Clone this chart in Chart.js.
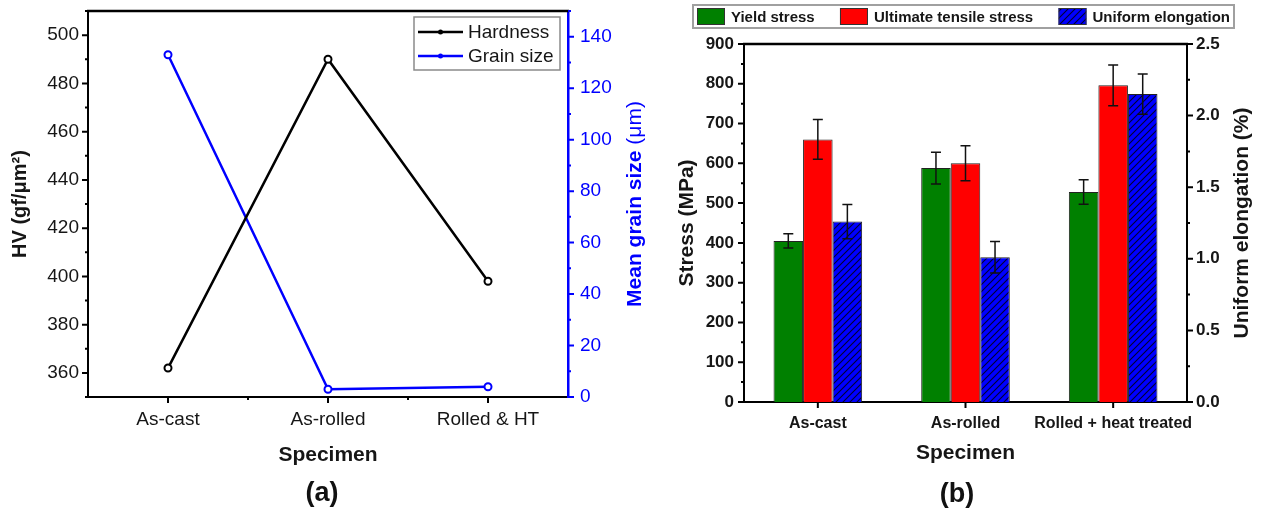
<!DOCTYPE html>
<html>
<head>
<meta charset="utf-8">
<script src="https://cdn.jsdelivr.net/npm/chart.js@4.4.1/dist/chart.umd.min.js"></script>
<style>
  html, body { margin: 0; padding: 0; background: #fff; width: 1261px; height: 517px; overflow: hidden; }
  #ca { position: absolute; left: 0; top: 0; }
  #cb { position: absolute; left: 650px; top: 0; }
  .plabel { position: absolute; font-family: "Liberation Sans", Arial, sans-serif; font-weight: bold; font-size: 27px; color: #111; transform: translate(-50%, -50%); line-height: 1; }
</style>
</head>
<body>
<canvas id="ca" width="650" height="517"></canvas>
<canvas id="cb" width="611" height="517"></canvas>
<div class="plabel" style="left:322px; top:492px;">(a)</div>
<div class="plabel" style="left:957px; top:493px;">(b)</div>
<script>
// ---------- DATA ----------
const specimensA = ['As-cast', 'As-rolled', 'Rolled & HT'];
const hardness = [362, 490, 398];          // HV (gf/μm²)
const grainSize = [133, 3, 4];             // μm

const specimensB = ['As-cast', 'As-rolled', 'Rolled + heat treated'];
const yieldStress = [405, 588, 528];       // MPa
const yieldErr = [18, 40, 31];
const uts = [660, 600, 796];               // MPa
const utsErr = [50, 44, 51];
const elongation = [1.26, 1.01, 2.15];     // %
const elongErr = [0.12, 0.11, 0.14];

const FONT = '"Liberation Sans", Arial, Helvetica, sans-serif';
const TXT = '#161616';

// ---------- PLUGINS ----------
function makeTicks(list) {
  return {
    id: 'tickMarks',
    afterDraw(chart) {
      const ctx = chart.ctx;
      list.forEach(cfg => {
        const s = chart.scales[cfg.id];
        const marks = [];
        if (s.type === 'category') {
          const n = chart.data.labels.length;
          for (let i = 0; i < n; i++) marks.push([s.getPixelForValue(i), true]);
          if (cfg.minorBetween) for (let i = 0; i < n - 1; i++) marks.push([s.getPixelForValue(i + 0.5), false]);
        } else {
          const count = Math.round((s.max - s.min) / cfg.minor);
          for (let k = 0; k <= count; k++) {
            const v = s.min + k * cfg.minor;
            const r = v / cfg.major;
            marks.push([s.getPixelForValue(v), Math.abs(r - Math.round(r)) < 1e-6]);
          }
        }
        ctx.save();
        ctx.strokeStyle = cfg.color;
        ctx.lineWidth = cfg.width;
        ctx.beginPath();
        marks.forEach(([p, major]) => {
          const len = major ? cfg.majorLen : cfg.minorLen;
          if (cfg.side === 'bottom') { ctx.moveTo(p, s.top); ctx.lineTo(p, s.top + len); }
          else if (cfg.side === 'left') { ctx.moveTo(s.right, p); ctx.lineTo(s.right - len, p); }
          else { ctx.moveTo(s.left, p); ctx.lineTo(s.left + len, p); }
        });
        ctx.stroke();
        ctx.restore();
      });
    }
  };
}

function makeFrame(cfg) {
  return {
    id: 'frameTop',
    afterDraw(chart) {
      const a = chart.chartArea, ctx = chart.ctx;
      ctx.save();
      ctx.strokeStyle = cfg.color;
      ctx.lineWidth = cfg.width;
      ctx.beginPath();
      ctx.moveTo(a.left - 1, a.top);
      ctx.lineTo(a.right + 1, a.top);
      ctx.stroke();
      ctx.restore();
    }
  };
}

function makeSideTitle(cfg) {
  return {
    id: 'sideTitle',
    afterDraw(chart) {
      const a = chart.chartArea, ctx = chart.ctx;
      ctx.save();
      ctx.translate(cfg.x, (a.top + a.bottom) / 2);
      ctx.rotate(-Math.PI / 2);
      ctx.textBaseline = 'middle';
      ctx.textAlign = 'left';
      let total = 0;
      cfg.parts.forEach(p => { ctx.font = p.font; p.w = ctx.measureText(p.text).width; total += p.w; });
      let x = -total / 2;
      cfg.parts.forEach(p => { ctx.font = p.font; ctx.fillStyle = cfg.color; ctx.fillText(p.text, x, 0); x += p.w; });
      ctx.restore();
    }
  };
}

function makeErrorBars(errs) {
  return {
    id: 'errorBars',
    afterDatasetsDraw(chart) {
      const ctx = chart.ctx;
      ctx.save();
      ctx.strokeStyle = '#111';
      ctx.lineWidth = 1.5;
      chart.data.datasets.forEach((ds, di) => {
        const meta = chart.getDatasetMeta(di);
        const ys = chart.scales[meta.yAxisID];
        const e = errs[di];
        meta.data.forEach((el, i) => {
          const v = ds.data[i];
          const yt = ys.getPixelForValue(v + e[i]);
          const yb = ys.getPixelForValue(v - e[i]);
          const x = el.x, cap = 5;
          ctx.beginPath();
          ctx.moveTo(x, yt); ctx.lineTo(x, yb);
          ctx.moveTo(x - cap, yt); ctx.lineTo(x + cap, yt);
          ctx.moveTo(x - cap, yb); ctx.lineTo(x + cap, yb);
          ctx.stroke();
        });
      });
      ctx.restore();
    }
  };
}

function makeLineLegend(cfg) {
  return {
    id: 'lineLegend',
    afterDraw(chart) {
      const ctx = chart.ctx, b = cfg.box;
      ctx.save();
      ctx.fillStyle = '#fff';
      ctx.fillRect(b.x, b.y, b.w, b.h);
      ctx.strokeStyle = '#8a8a8a';
      ctx.lineWidth = 1.5;
      ctx.strokeRect(b.x, b.y, b.w, b.h);
      chart.data.datasets.forEach((ds, i) => {
        const y = cfg.rowY[i];
        ctx.strokeStyle = ds.borderColor;
        ctx.lineWidth = 2.5;
        ctx.beginPath(); ctx.moveTo(cfg.x0, y); ctx.lineTo(cfg.x1, y); ctx.stroke();
        ctx.fillStyle = ds.borderColor;
        ctx.beginPath(); ctx.arc((cfg.x0 + cfg.x1) / 2, y, 2.5, 0, Math.PI * 2); ctx.fill();
        ctx.fillStyle = TXT;
        ctx.font = cfg.font;
        ctx.textBaseline = 'middle';
        ctx.textAlign = 'left';
        ctx.fillText(ds.label, cfg.textX, y + 1);
      });
      ctx.restore();
    }
  };
}

function makeSwatchLegend(cfg) {
  return {
    id: 'swatchLegend',
    afterDraw(chart) {
      const ctx = chart.ctx, b = cfg.box;
      ctx.save();
      ctx.strokeStyle = '#a0a0a0';
      ctx.lineWidth = 2;
      ctx.strokeRect(b.x, b.y, b.w, b.h);
      ctx.font = cfg.font;
      const dss = chart.data.datasets;
      const widths = dss.map(d => ctx.measureText(d.label).width);
      let used = 0;
      widths.forEach(w => used += cfg.swW + cfg.swGap + w);
      const gap = (cfg.endX - cfg.startX - used) / (dss.length - 1);
      let x = cfg.startX;
      dss.forEach((d, i) => {
        ctx.fillStyle = d.backgroundColor;
        ctx.fillRect(x, cfg.swY, cfg.swW, cfg.swH);
        ctx.strokeStyle = '#333';
        ctx.lineWidth = 1;
        ctx.strokeRect(x + 0.5, cfg.swY + 0.5, cfg.swW - 1, cfg.swH - 1);
        ctx.fillStyle = TXT;
        ctx.textBaseline = 'middle';
        ctx.textAlign = 'left';
        ctx.fillText(d.label, x + cfg.swW + cfg.swGap, cfg.swY + cfg.swH / 2 + 1);
        x += cfg.swW + cfg.swGap + widths[i] + gap;
      });
      ctx.restore();
    }
  };
}

function hatchPattern() {
  const c = document.createElement('canvas');
  const n = 7;
  c.width = n; c.height = n;
  const g = c.getContext('2d');
  g.fillStyle = '#0000ff';
  g.fillRect(0, 0, n, n);
  g.strokeStyle = '#000033';
  g.lineWidth = 1.1;
  g.beginPath();
  g.moveTo(0, n); g.lineTo(n, 0);
  g.moveTo(-1, 1); g.lineTo(1, -1);
  g.moveTo(n - 1, n + 1); g.lineTo(n + 1, n - 1);
  g.stroke();
  return g.createPattern(c, 'repeat');
}

function noVPad(width) {
  return function (s) { s.width = width; s.paddingTop = 0; s.paddingBottom = 0; };
}

// ---------- CHART A ----------
new Chart(document.getElementById('ca'), {
  type: 'line',
  data: {
    labels: specimensA,
    datasets: [
      { label: 'Hardness', data: hardness, yAxisID: 'y', borderColor: '#000000', backgroundColor: '#000000',
        borderWidth: 2.5, pointRadius: 3.5, pointBorderWidth: 2, pointBackgroundColor: '#ffffff', pointBorderColor: '#000000', tension: 0 },
      { label: 'Grain size', data: grainSize, yAxisID: 'y1', borderColor: '#0000ff', backgroundColor: '#0000ff',
        borderWidth: 2.5, pointRadius: 3.5, pointBorderWidth: 2, pointBackgroundColor: '#ffffff', pointBorderColor: '#0000ff', tension: 0 }
    ]
  },
  options: {
    responsive: false, animation: false, events: [],
    layout: { padding: { top: 11, left: 0, right: 0, bottom: 0 } },
    plugins: { legend: { display: false }, tooltip: { enabled: false } },
    scales: {
      x: {
        type: 'category', offset: true,
        grid: { display: false, drawTicks: false },
        border: { display: true, color: '#000', width: 2 },
        ticks: { padding: 11, maxRotation: 0, minRotation: 0, autoSkip: false, color: TXT, font: { family: FONT, size: 19 } },
        title: { display: true, text: 'Specimen', color: TXT, font: { family: FONT, size: 21, weight: 'bold' }, padding: { top: 0, bottom: 49 } },
        afterFit(s) { s.height = 120; }
      },
      y: {
        position: 'left', min: 350, max: 510,
        grid: { display: false, drawTicks: false },
        border: { display: true, color: '#000', width: 2 },
        ticks: { stepSize: 10, autoSkip: false, padding: 9, color: TXT, font: { family: FONT, size: 19 },
                 callback: v => (v % 20 === 0 ? v : null) },
        title: { display: true, text: 'HV (gf/μm²)', color: TXT, font: { family: FONT, size: 20, weight: 'bold' }, padding: { top: 8, bottom: 0 } },
        afterFit: noVPad(88)
      },
      y1: {
        position: 'right', min: 0, max: 150,
        grid: { display: false, drawTicks: false },
        border: { display: true, color: '#0000ff', width: 2.5 },
        ticks: { stepSize: 10, autoSkip: false, padding: 12, color: '#0000ff', font: { family: FONT, size: 19 },
                 callback: v => (v % 20 === 0 ? v : null) },
        afterFit: noVPad(82)
      }
    }
  },
  plugins: [
    makeFrame({ color: '#000', width: 2.5 }),
    makeTicks([
      { id: 'x', side: 'bottom', minorBetween: true, majorLen: 6, minorLen: 3, color: '#000', width: 2 },
      { id: 'y', side: 'left', major: 20, minor: 10, majorLen: 6, minorLen: 3, color: '#000', width: 2 },
      { id: 'y1', side: 'right', major: 20, minor: 10, majorLen: 6, minorLen: 3, color: '#0000ff', width: 2 }
    ]),
    makeSideTitle({ x: 635, color: '#0000ff', parts: [
      { text: 'Mean grain size ', font: 'bold 21px ' + FONT },
      { text: '(μm)', font: '21px ' + FONT }
    ] }),
    makeLineLegend({ box: { x: 414, y: 17, w: 146, h: 53 }, rowY: [32, 56], x0: 418, x1: 463, textX: 468, font: '19px ' + FONT })
  ]
});

// ---------- CHART B ----------
const hatch = hatchPattern();
new Chart(document.getElementById('cb'), {
  type: 'bar',
  data: {
    labels: specimensB,
    datasets: [
      { label: 'Yield stress', data: yieldStress, yAxisID: 'y', backgroundColor: '#008000', borderColor: '#222', borderWidth: 1 },
      { label: 'Ultimate tensile stress', data: uts, yAxisID: 'y', backgroundColor: '#ff0000', borderColor: '#222', borderWidth: 1 },
      { label: 'Uniform elongation', data: elongation, yAxisID: 'y1', backgroundColor: hatch, borderColor: '#222', borderWidth: 1 }
    ]
  },
  options: {
    responsive: false, animation: false, events: [],
    layout: { padding: { top: 44, left: 0, right: 0, bottom: 0 } },
    datasets: { bar: { categoryPercentage: 0.6, barPercentage: 1.0 } },
    plugins: { legend: { display: false }, tooltip: { enabled: false } },
    scales: {
      x: {
        type: 'category', offset: true,
        grid: { display: false, drawTicks: false },
        border: { display: true, color: '#000', width: 2 },
        ticks: { padding: 12, maxRotation: 0, minRotation: 0, autoSkip: false, color: TXT, font: { family: FONT, size: 16, weight: 'bold' } },
        title: { display: true, text: 'Specimen', color: TXT, font: { family: FONT, size: 21, weight: 'bold' }, padding: { top: 0, bottom: 51 } },
        afterFit(s) { s.height = 115; }
      },
      y: {
        position: 'left', min: 0, max: 900,
        grid: { display: false, drawTicks: false },
        border: { display: true, color: '#000', width: 2 },
        ticks: { stepSize: 100, autoSkip: false, padding: 10, color: TXT, font: { family: FONT, size: 17, weight: 'bold' } },
        title: { display: true, text: 'Stress (MPa)', color: TXT, font: { family: FONT, size: 21, weight: 'bold' }, padding: { top: 25, bottom: 0 } },
        afterFit: noVPad(94)
      },
      y1: {
        position: 'right', min: 0, max: 2.5,
        grid: { display: false, drawTicks: false },
        border: { display: true, color: '#000', width: 2 },
        ticks: { stepSize: 0.5, autoSkip: false, padding: 9, color: TXT, font: { family: FONT, size: 17, weight: 'bold' },
                 callback: v => Number(v).toFixed(1) },
        afterFit: noVPad(74)
      }
    }
  },
  plugins: [
    makeFrame({ color: '#000', width: 2.5 }),
    makeErrorBars([yieldErr, utsErr, elongErr]),
    makeTicks([
      { id: 'x', side: 'bottom', minorBetween: false, majorLen: 6, minorLen: 3, color: '#000', width: 2 },
      { id: 'y', side: 'left', major: 100, minor: 50, majorLen: 6, minorLen: 3, color: '#000', width: 2 },
      { id: 'y1', side: 'right', major: 0.5, minor: 0.25, majorLen: 6, minorLen: 3, color: '#000', width: 2 }
    ]),
    makeSideTitle({ x: 592, color: TXT, parts: [
      { text: 'Uniform elongation (%)', font: 'bold 21px ' + FONT }
    ] }),
    makeSwatchLegend({ box: { x: 43, y: 5, w: 541, h: 23 }, startX: 47, endX: 580, swW: 28, swH: 17, swY: 8, swGap: 6, font: 'bold 15px ' + FONT })
  ]
});
</script>
</body>
</html>
